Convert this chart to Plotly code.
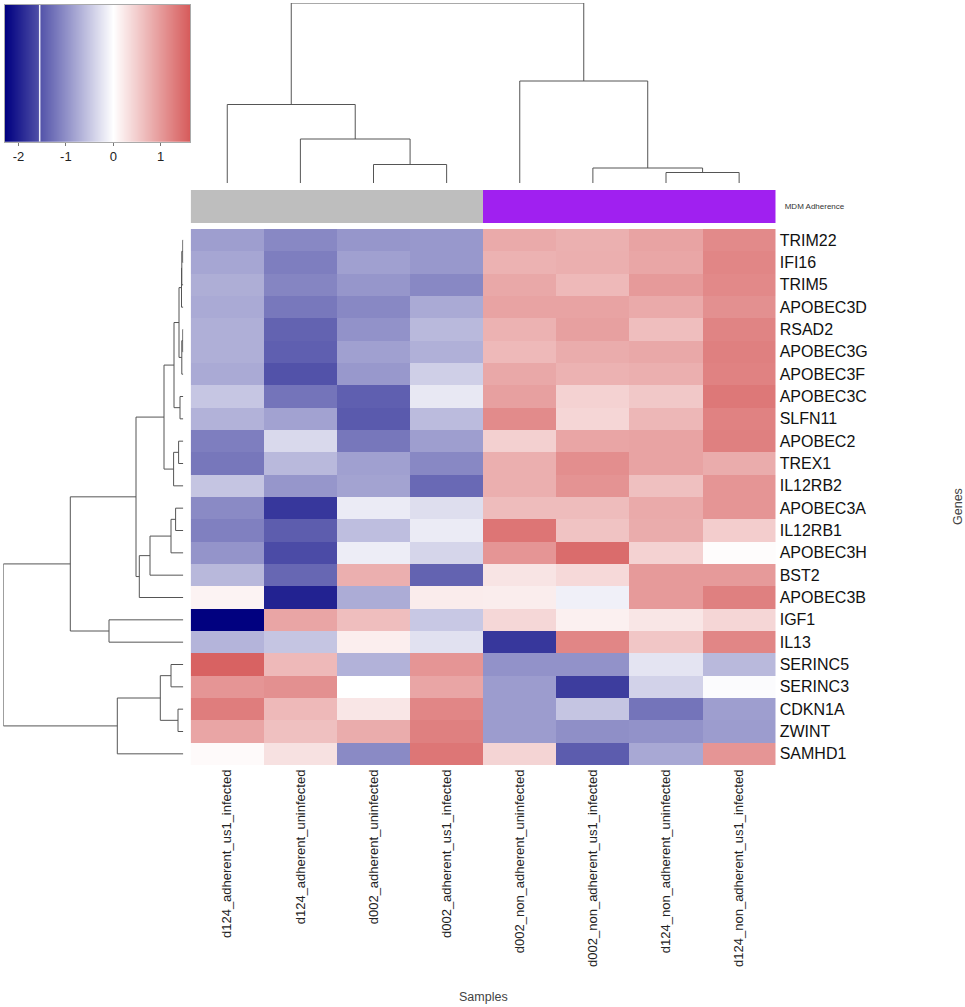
import plotly.graph_objects as go

# **** Data
samples = ["d124_adherent_us1_infected", "d124_adherent_uninfected", "d002_adherent_uninfected",
           "d002_adherent_us1_infected", "d002_non_adherent_uninfected", "d002_non_adherent_us1_infected",
           "d124_non_adherent_uninfected", "d124_non_adherent_us1_infected"]
genes = ["TRIM22", "IFI16", "TRIM5", "APOBEC3D", "RSAD2", "APOBEC3G", "APOBEC3F", "APOBEC3C", "SLFN11",
         "APOBEC2", "TREX1", "IL12RB2", "APOBEC3A", "IL12RB1", "APOBEC3H", "BST2", "APOBEC3B", "IGF1",
         "IL13", "SERINC5", "SERINC3", "CDKN1A", "ZWINT", "SAMHD1"]

expression = [
    [-0.87, -1.07, -0.94, -0.92, 0.84, 0.78, 0.91, 1.15],
    [-0.80, -1.16, -0.85, -0.92, 0.76, 0.79, 0.88, 1.19],
    [-0.73, -1.09, -0.94, -1.07, 0.86, 0.69, 0.99, 1.16],
    [-0.76, -1.21, -1.07, -0.76, 0.91, 0.91, 0.84, 1.09],
    [-0.72, -1.40, -0.98, -0.63, 0.76, 0.94, 0.64, 1.21],
    [-0.72, -1.43, -0.85, -0.71, 0.69, 0.82, 0.86, 1.25],
    [-0.76, -1.55, -0.92, -0.43, 0.86, 0.76, 0.79, 1.23],
    [-0.51, -1.25, -1.43, -0.21, 0.94, 0.44, 0.54, 1.33],
    [-0.69, -0.83, -1.48, -0.61, 1.14, 0.40, 0.71, 1.23],
    [-1.16, -0.34, -1.22, -0.87, 0.46, 0.89, 0.91, 1.25],
    [-1.22, -0.63, -0.85, -1.07, 0.79, 1.11, 0.91, 0.82],
    [-0.52, -0.94, -0.82, -1.34, 0.79, 1.06, 0.62, 1.04],
    [-1.05, -1.79, -0.18, -0.30, 0.66, 0.66, 0.84, 1.04],
    [-1.14, -1.45, -0.58, -0.18, 1.36, 0.59, 0.82, 0.49],
    [-0.96, -1.61, -0.16, -0.38, 1.04, 1.45, 0.44, 0.03],
    [-0.64, -1.36, 0.79, -1.40, 0.27, 0.37, 0.99, 0.99],
    [0.12, -1.98, -0.74, 0.19, 0.18, -0.13, 0.99, 1.25],
    [-2.28, 0.89, 0.64, -0.49, 0.39, 0.15, 0.25, 0.40],
    [-0.67, -0.52, 0.17, -0.27, -1.79, 1.19, 0.56, 1.19],
    [1.55, 0.69, -0.69, 1.04, -0.98, -0.98, -0.24, -0.63],
    [1.04, 1.09, 0.00, 0.89, -0.89, -1.74, -0.40, -0.04],
    [1.28, 0.69, 0.25, 1.19, -0.89, -0.52, -1.25, -0.87],
    [0.89, 0.62, 0.82, 1.25, -0.89, -1.00, -0.98, -0.89],
    [0.05, 0.30, -1.05, 1.35, 0.42, -1.46, -0.78, 1.04],
]
adherence = [0, 0, 0, 0, 1, 1, 1, 1]

# merges are (left, right, height): an int is a leaf, "mN" is the Nth merge of the list
sample_merges = [
    (2, 3, 18.5), (1, "m0", 44.0), (0, "m1", 78.5),
    (6, 7, 10.5), (5, "m3", 15.0), (4, "m4", 102.0),
    ("m2", "m5", 180.0),
]
gene_merges = [
    (0, 1, 0.5), ("m0", 2, 1.5), ("m1", 3, 1.8),
    (4, 5, 0.5), ("m3", 6, 1.5), ("m2", "m4", 4.3),
    (7, 8, 3.3), ("m5", "m6", 9.3),
    (9, 10, 4.7), ("m8", 11, 9.7), ("m7", "m9", 19.3),
    (12, 13, 7.7), ("m11", 14, 12.3), ("m12", 15, 33.3), ("m13", 16, 44.0),
    ("m10", "m14", 47.3),
    (17, 18, 74.3), ("m15", "m16", 113.0),
    (19, 20, 12.3), (21, 22, 5.3), ("m18", "m19", 23.0), ("m20", 23, 66.0),
    ("m17", "m21", 180.0),
]

legend_stops = [-2.285, 0, 1.625]
legend_ticks = [-2, -1, 0, 1]
legend_tick_labels = ["-2", "-1", "0", "1"]
legend_marker = -1.553

# **** Page geometry (pixels)
page_w = 965
page_h = 1007
line_color = "#555555"
text_font = "Liberation Sans, Arial, sans-serif"


def dom_x(left, right):
    return [left / page_w, right / page_w]


def dom_y(top, bottom):
    return [1 - bottom / page_h, 1 - top / page_h]


def tree_lines(merges):
    # one bracket per merge, each joining the midpoint of what it merges
    joined = {}
    pos = []
    height = []
    for index, (left, right, merge_height) in enumerate(merges):
        left_pos, left_height = joined.get(left, (left, 0))
        right_pos, right_height = joined.get(right, (right, 0))
        pos += [left_pos, left_pos, right_pos, right_pos, None]
        height += [left_height, merge_height, merge_height, right_height, None]
        joined["m" + str(index)] = ((left_pos + right_pos) / 2, merge_height)
    return pos, height


sample_pos, sample_height = tree_lines(sample_merges)
gene_pos, gene_height = tree_lines(gene_merges)

zero = -legend_stops[0] / (legend_stops[2] - legend_stops[0])
colorscale = [[0, "#000080"], [zero, "#ffffff"], [1, "#d65a5a"]]

fig = go.Figure()

fig.add_trace(go.Heatmap(z=expression, x=samples, y=genes, colorscale=colorscale,
                         zmin=legend_stops[0], zmax=legend_stops[2], showscale=False,
                         xaxis="x", yaxis="y"))
fig.add_trace(go.Heatmap(z=[adherence], x=samples, y=["MDM Adherence"],
                         colorscale=[[0, "#bebebe"], [1, "#a020f0"]], zmin=0, zmax=1, showscale=False,
                         xaxis="x2", yaxis="y2"))
fig.add_trace(go.Scatter(x=sample_pos, y=sample_height, mode="lines", showlegend=False,
                         line=dict(color=line_color, width=1), xaxis="x3", yaxis="y3"))
fig.add_trace(go.Scatter(x=gene_height, y=gene_pos, mode="lines", showlegend=False,
                         line=dict(color=line_color, width=1), xaxis="x4", yaxis="y4"))
fig.add_trace(go.Heatmap(z=[legend_stops, legend_stops], x=legend_stops, y=[0, 1], colorscale=colorscale,
                         zmin=legend_stops[0], zmax=legend_stops[2], zsmooth="best", showscale=False,
                         xaxis="x5", yaxis="y5"))
fig.add_trace(go.Scatter(x=[legend_marker, legend_marker], y=[0, 1], mode="lines", showlegend=False,
                         line=dict(color="#eeeef8", width=1.5), xaxis="x5", yaxis="y5"))

hidden = dict(visible=False, fixedrange=True)
main_x = dom_x(190.7, 775.7)

fig.update_layout(
    width=page_w,
    height=page_h,
    margin=dict(l=0, r=0, t=0, b=0),
    plot_bgcolor="white",
    paper_bgcolor="white",
    font=dict(family=text_font, color="#222222"),
    xaxis=dict(domain=main_x, anchor="y", side="bottom", tickangle=-90, ticks="", showgrid=False,
               zeroline=False, showline=False, automargin=False, tickfont=dict(size=13, color="#222222"),
               ticklabelstandoff=1),
    yaxis=dict(domain=dom_y(229, 765), anchor="x", side="right", autorange="reversed", ticks="", showgrid=False,
               zeroline=False, showline=False, automargin=False, tickfont=dict(size=16, color="#111111"),
               ticklabelstandoff=3),
    xaxis2=dict(domain=main_x, anchor="y2", showticklabels=False, ticks="", showgrid=False, zeroline=False,
                automargin=False),
    yaxis2=dict(domain=dom_y(190, 223.3), anchor="x2", side="right", ticks="", showgrid=False, zeroline=False,
                automargin=False, tickfont=dict(size=8, color="#333333"), ticklabelstandoff=8),
    xaxis3=dict(domain=main_x, anchor="y3", range=[-0.5, 7.5], **hidden),
    yaxis3=dict(domain=dom_y(3, 183), anchor="x3", range=[0, 180], **hidden),
    xaxis4=dict(domain=dom_x(3.3, 183.3), anchor="y4", range=[180, 0], **hidden),
    yaxis4=dict(domain=dom_y(229, 765), anchor="x4", range=[23.5, -0.5], **hidden),
    xaxis5=dict(domain=dom_x(5, 190.3), anchor="y5", range=[legend_stops[0], legend_stops[2]],
                tickvals=legend_ticks, ticktext=legend_tick_labels, ticks="outside", ticklen=3,
                tickcolor="#777777", showgrid=False, zeroline=False, showline=True, linecolor="#aaaaaa",
                mirror=True, automargin=False, tickfont=dict(size=13, color="#222222")),
    yaxis5=dict(domain=dom_y(5, 141.7), anchor="x5", range=[0, 1], showticklabels=False, ticks="", showgrid=False,
                zeroline=False, showline=True, linecolor="#aaaaaa", mirror=True, automargin=False),
    annotations=[
        dict(text="Samples", x=483 / page_w, y=1 - 997 / page_h, xref="paper", yref="paper", showarrow=False,
             xanchor="center", yanchor="middle", font=dict(size=12.5, color="#444444")),
        dict(text="Genes", x=958 / page_w, y=1 - 507 / page_h, xref="paper", yref="paper", showarrow=False,
             xanchor="center", yanchor="middle", textangle=-90, font=dict(size=12.5, color="#444444")),
    ],
)

fig.write_html("out.html", config=dict(displayModeBar=False),
               post_script="document.body.style.margin='0';")
